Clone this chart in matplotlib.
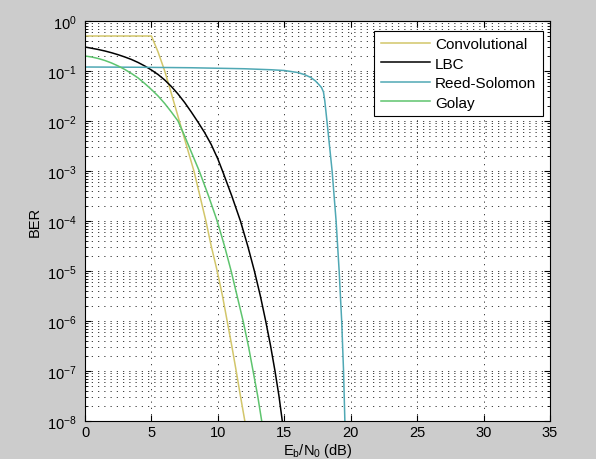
import numpy as np
import matplotlib
matplotlib.use("Agg")
import matplotlib.pyplot as plt
from matplotlib.ticker import FixedLocator, LogFormatterSciNotation, NullFormatter

plt.rcParams['font.family'] = ['Liberation Sans', 'DejaVu Sans']
plt.rcParams['mathtext.fontset'] = 'custom'
plt.rcParams['mathtext.rm'] = 'Liberation Sans'
plt.rcParams['mathtext.default'] = 'regular'

# ---- data (BER given as log10 values) ----
conv_x = [0, 5, 5.5, 6.0, 6.5, 7.1, 7.65, 8.2, 8.65, 9.1, 9.5, 9.95, 10.35, 10.7, 11.05, 11.38, 11.7, 12.03]
conv_log = [-0.30, -0.30, -0.62, -1.0, -1.45, -2.0, -2.5, -3.0, -3.5, -4.0, -4.5, -5.0, -5.5, -6.0, -6.5, -7.0, -7.5, -8.0]

lbc_x = [0, 0.5, 1, 1.5, 2, 2.5, 3, 3.5, 4, 4.5, 5, 5.5, 6, 6.5, 7, 7.5, 8, 8.5, 9, 9.5, 10,
         10.35, 11.05, 11.7, 12.25, 12.75, 13.2, 13.6, 13.97, 14.3, 14.6, 14.85]
lbc_log = [-0.52, -0.545, -0.57, -0.60, -0.635, -0.675, -0.72, -0.77, -0.83, -0.90, -0.98,
           -1.07, -1.18, -1.31, -1.46, -1.63, -1.82, -2.02, -2.23, -2.47, -2.76,
           -3.0, -3.5, -4.0, -4.5, -5.0, -5.5, -6.0, -6.5, -7.0, -7.5, -8.0]

rs_x = [0, 4, 8, 12, 14, 15, 16, 16.5, 17, 17.35, 17.6, 17.8, 17.95, 18.05, 18.15, 18.25,
        18.6, 18.9, 19.13, 19.32, 19.46, 19.56]
rs_log = [-0.92, -0.925, -0.935, -0.955, -0.975, -0.99, -1.03, -1.07, -1.13, -1.20, -1.27,
          -1.33, -1.42, -1.60, -1.85, -2.1, -3.0, -4.0, -5.0, -6.0, -7.0, -8.0]

golay_x = [0, 0.5, 1, 1.5, 2, 2.5, 3, 3.5, 4, 4.5, 5, 5.5, 6, 6.5, 7, 7.5, 8, 8.6,
           9.3, 9.95, 10.5, 11.0, 11.45, 11.9, 12.3, 12.65, 13.0, 13.3]
golay_log = [-0.70, -0.72, -0.75, -0.79, -0.84, -0.90, -0.97, -1.05, -1.14, -1.25, -1.37,
             -1.50, -1.65, -1.82, -2.0, -2.30, -2.62, -3.0, -3.5, -4.0, -4.5, -5.0, -5.5,
             -6.0, -6.5, -7.0, -7.5, -8.0]

labels = ['Convolutional', 'LBC', 'Reed-Solomon', 'Golay']
colors = ['#d2c66a', '#000000', '#4fa8b4', '#5ec46e']
x_ticks = [0, 5, 10, 15, 20, 25, 30, 35]
y_decades = list(range(-8, 1))

fig = plt.figure(figsize=(5.96, 4.6), dpi=100, facecolor='#cccccc')
bot, top = 422, 22
ax = fig.add_axes([85/596, 1-bot/460, (550-85)/596, (bot-top)/460])
ax.set_facecolor('white')

series = [(conv_x, conv_log), (lbc_x, lbc_log), (rs_x, rs_log), (golay_x, golay_log)]
for (x, lg), lab, c in zip(series, labels, colors):
    ax.semilogy(x, 10.0 ** np.array(lg), color=c, lw=1.1, label=lab)

ax.set_xlim(0, 35)
ax.set_ylim(1e-8, 1)
ax.xaxis.set_major_locator(FixedLocator(x_ticks))
major_y = [10.0 ** e for e in y_decades]
minor_y = [m * 10.0 ** e for e in y_decades[:-1] for m in range(2, 10)]
ax.yaxis.set_major_locator(FixedLocator(major_y))
ax.yaxis.set_minor_locator(FixedLocator(minor_y))
ax.yaxis.set_major_formatter(LogFormatterSciNotation())
ax.yaxis.set_minor_formatter(NullFormatter())
ax.xaxis.get_offset_text().set_visible(False)
ax.yaxis.get_offset_text().set_visible(False)
dot = (0, (1.5, 6))
ax.grid(True, which='major', ls=dot, color='#222222', lw=0.6)
ax.grid(True, which='minor', axis='y', ls=dot, color='#222222', lw=0.6)
ax.tick_params(which='both', direction='in', top=True, right=True, labelsize=10.5)
ax.tick_params(which='major', length=4)
ax.tick_params(axis='y', which='major', pad=6)
ax.tick_params(axis='x', which='major', pad=3)
ax.tick_params(which='minor', length=2)
for s in ax.spines.values():
    s.set_linewidth(0.8)

ax.set_xlabel(r'E$_\mathrm{b}$/N$_\mathrm{0}$ (dB)', fontsize=10.5, labelpad=1)
ax.set_ylabel('BER', fontsize=10.5, labelpad=4)

leg = ax.legend(loc='upper right', bbox_to_anchor=(0.985, 0.976), fontsize=11,
                frameon=True, fancybox=False, edgecolor='black', framealpha=1,
                handlelength=3.2, handletextpad=0.35, labelspacing=0.35,
                borderpad=0.45, borderaxespad=0)
leg.get_frame().set_linewidth(0.8)

fig.savefig('out.png', dpi=100, facecolor=fig.get_facecolor())
